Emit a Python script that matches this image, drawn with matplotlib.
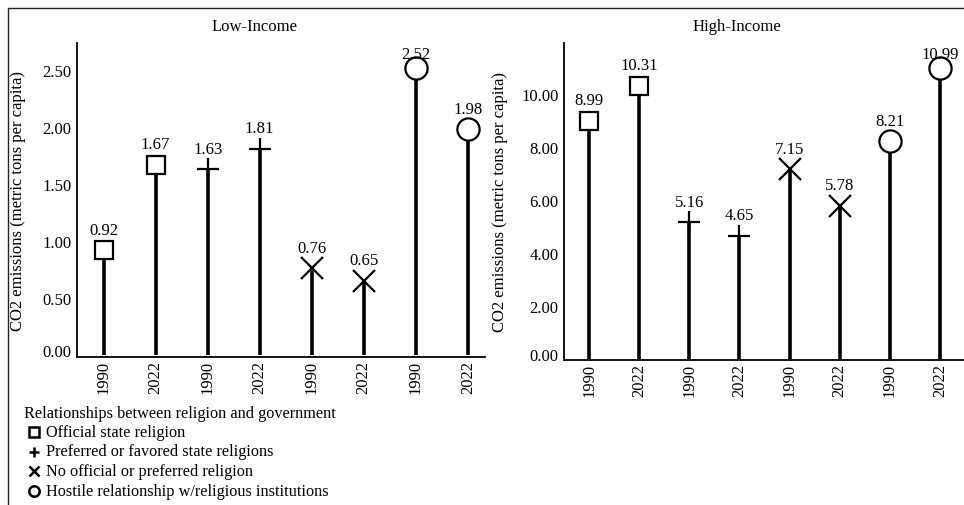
import matplotlib.pyplot as plt
from matplotlib.lines import Line2D
from matplotlib.patches import Rectangle
from matplotlib.transforms import ScaledTranslation

plt.rcParams['font.family'] = ['Liberation Serif', 'DejaVu Serif']

years = ['1990', '2022', '1990', '2022', '1990', '2022', '1990', '2022']
low_income = [0.92, 1.67, 1.63, 1.81, 0.76, 0.65, 2.52, 1.98]
high_income = [8.99, 10.31, 5.16, 4.65, 7.15, 5.78, 8.21, 10.99]
markers = ['s', 's', '+', '+', 'x', 'x', 'o', 'o']
categories = ['Official state religion',
              'Preferred or favored state religions',
              'No official or preferred religion',
              'Hostile relationship w/religious institutions']
cat_markers = ['s', '+', 'x', 'o']

W, H = 964, 506
FS = 12
fig = plt.figure(figsize=(W / 100, H / 100), dpi=100)


def px_axes(l, t, r, b):
    return fig.add_axes([l / W, 1 - b / H, (r - l) / W, (b - t) / H])


def lollipop(ax, vals, ylim, xlim, yticks):
    ax.set_xlim(*xlim)
    ax.set_ylim(*ylim)
    for i, v in enumerate(vals):
        ax.plot([i, i], [0, v], color='black', lw=2.6, solid_capstyle='butt', zorder=2)
        m = markers[i]
        ms = 13.5 if m == 's' else 16
        ax.plot(i, v, marker=m, ms=ms, mfc='white' if m in 'so' else 'none',
                mec='black', mew=1.6, ls='none', zorder=3)
        # labels near the top of the panel get squeezed down onto the marker
        near_top = (ylim[1] - v) / (ylim[1] - ylim[0]) < 0.1
        ax.annotate(f'{v:.2f}', (i, v), xytext=(0, 4 if near_top else 9),
                    textcoords='offset points', ha='center', va='bottom',
                    fontsize=FS, clip_on=False, zorder=4)
    ax.set_xticks(range(len(vals)))
    ax.set_xticklabels(years, rotation=90, fontsize=FS)
    ax.set_yticks(yticks)
    ax.set_yticklabels([f'{t:.2f}' for t in yticks], fontsize=FS)
    ax.tick_params(length=0, pad=4)
    ax.tick_params(axis='x', pad=2)
    lab0 = ax.get_yticklabels()[0]
    lab0.set_transform(lab0.get_transform() + ScaledTranslation(0, 0.05, fig.dpi_scale_trans))
    for s in ['top', 'right']:
        ax.spines[s].set_visible(False)
    for s in ['left', 'bottom']:
        ax.spines[s].set_linewidth(1.3)
    ax.set_ylabel('CO2 emissions (metric tons per capita)', fontsize=FS)


ax1 = px_axes(77, 44, 485, 358)
lollipop(ax1, low_income, (-0.02, 2.74), (-0.51, 7.33), [0, 0.5, 1.0, 1.5, 2.0, 2.5])
ax1.yaxis.set_label_coords((26 - 77) / 408, 0.5)

ax2 = px_axes(564, 44, 964, 361)
lollipop(ax2, high_income, (-0.04, 11.92), (-0.5, 7.48), [0, 2, 4, 6, 8, 10])
ax2.yaxis.set_label_coords((508 - 564) / 400, 0.5)

fig.text(255 / W, 1 - 27 / H, 'Low-Income', ha='center', va='center', fontsize=FS)
fig.text(737 / W, 1 - 27 / H, 'High-Income', ha='center', va='center', fontsize=FS)

# outer frame, only top and left edges fall inside the image
fig.patches.append(Rectangle((8 / W, -0.2), 1.5, 1.2 - 9 / H, transform=fig.transFigure,
                             fill=False, edgecolor='#222222', lw=1))

# legend drawn by hand under the left panel
LFS = 11.7
fig.text(24 / W, 1 - 414 / H, 'Relationships between religion and government',
         ha='left', va='center', fontsize=LFS)
for k, (m, lab) in enumerate(zip(cat_markers, categories)):
    y = 1 - (433 + 19.5 * k) / H
    fig.add_artist(Line2D([34 / W], [y], marker=m, color='black', ls='none',
                          ms=6.5 if m == 's' else 7.5, mfc='none', mew=1.8))
    fig.text(46 / W, y, lab, ha='left', va='center', fontsize=LFS)

fig.savefig('out.png', dpi=100)
